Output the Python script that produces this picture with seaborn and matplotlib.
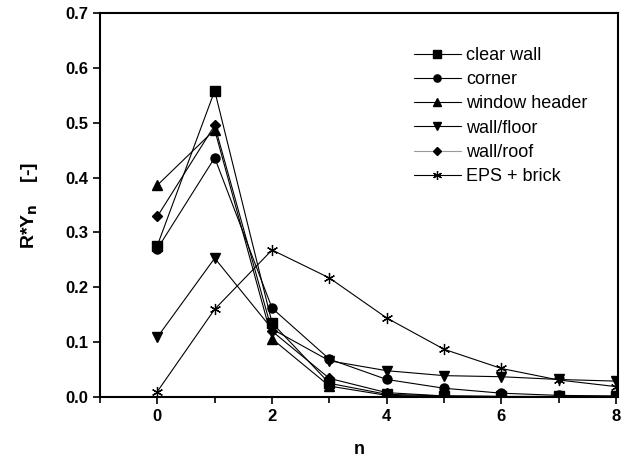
import numpy as np
import pandas as pd
import matplotlib
matplotlib.use('Agg')
import matplotlib.pyplot as plt
import seaborn as sns
from matplotlib.ticker import MultipleLocator, FormatStrFormatter

# du lieu doc tu hinh
n = [0, 1, 2, 3, 4, 5, 6, 7, 8]
clear_wall = [0.276, 0.558, 0.135, 0.025, 0.005, 0.002, 0.001, 0.001, 0.001]
corner = [0.270, 0.436, 0.162, 0.069, 0.032, 0.016, 0.007, 0.003, 0.002]
window_header = [0.386, 0.487, 0.106, 0.020, 0.003, 0.001, 0.001, 0.000, 0.000]
wall_floor = [0.109, 0.253, 0.124, 0.066, 0.048, 0.039, 0.037, 0.032, 0.029]
wall_roof = [0.329, 0.495, 0.120, 0.034, 0.008, 0.002, 0.001, 0.001, 0.001]
eps_brick = [0.010, 0.160, 0.268, 0.217, 0.144, 0.087, 0.052, 0.031, 0.019]

ten = ['clear wall', 'corner', 'window header', 'wall/floor', 'wall/roof', 'EPS + brick']
gia_tri = [clear_wall, corner, window_header, wall_floor, wall_roof, eps_brick]
ky_hieu = ['s', 'o', '^', 'v', 'D', (6, 2, 0)]
co = [6.5, 6.5, 7.5, 7.5, 5.5, 8]

du_lieu = pd.DataFrame({'n': n})
for t, v in zip(ten, gia_tri):
    du_lieu[t] = v

sns.set_style('ticks')
plt.rcParams['font.family'] = ['Liberation Sans', 'DejaVu Sans']
plt.rcParams['text.color'] = 'black'
plt.rcParams['axes.labelcolor'] = 'black'
plt.rcParams['xtick.color'] = 'black'
plt.rcParams['ytick.color'] = 'black'

fig = plt.figure(figsize=(6.21, 4.59), dpi=100)
ax = fig.add_axes([0.161, 0.135, 0.834, 0.837])

for t, m, s in zip(ten, ky_hieu, co):
    sns.lineplot(data=du_lieu, x='n', y=t, ax=ax, color='black', linewidth=0.8,
                 marker=m, markersize=s, markeredgewidth=1.0 if m != (6, 2, 0) else 0.9,
                 markeredgecolor='black', label=t)

ax.set_xlim(-1, 8.03)
ax.set_ylim(0, 0.7)
ax.xaxis.set_major_locator(MultipleLocator(2))
ax.xaxis.set_minor_locator(MultipleLocator(1))
ax.yaxis.set_major_locator(MultipleLocator(0.1))
ax.yaxis.set_major_formatter(FormatStrFormatter('%.1f'))
ax.tick_params(which='both', direction='out', width=1.2, labelsize=12)
ax.tick_params(which='major', length=5)
ax.tick_params(which='minor', length=4)
for lab in ax.get_xticklabels() + ax.get_yticklabels():
    lab.set_fontweight('bold')
for sp in ax.spines.values():
    sp.set_visible(True)
    sp.set_linewidth(1.5)
    sp.set_color('black')

ax.set_xlabel('n', fontsize=13, fontweight='bold', labelpad=12)
ax.set_ylabel(r'R*Y$_\mathbf{n}$    [-]', fontsize=14, fontweight='bold', labelpad=18)

leg = ax.legend(loc='upper left', bbox_to_anchor=(0.592, 0.93), frameon=False, fontsize=13,
                handlelength=2.6, handletextpad=0.3, labelspacing=0.4, markerscale=0.8,
                borderaxespad=0)
leg.get_lines()[4].set_color('0.6')
leg.get_lines()[4].set_markeredgecolor('black')
leg.get_lines()[4].set_markerfacecolor('black')

fig.savefig('out.png', dpi=100)
